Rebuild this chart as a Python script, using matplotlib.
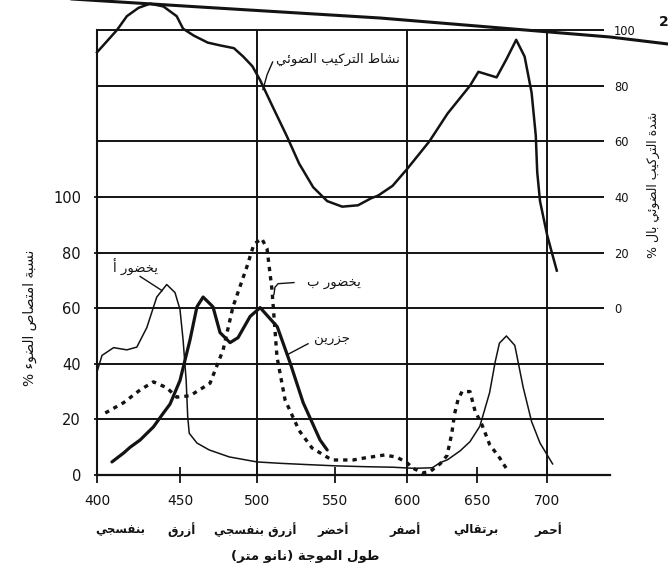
import numpy as np
import matplotlib
matplotlib.use("Agg")
import matplotlib.pyplot as plt
from matplotlib.lines import Line2D

# ---------------- data ----------------
# photosynthesis rate (right axis, %)
photo_nm = [400, 406, 412, 418, 425, 432, 440, 448, 452, 459, 468, 476, 485, 491,
            497, 502, 510, 519, 527, 536, 545, 555, 566, 575, 580, 590, 600, 616,
            629, 645, 651, 664, 671, 678, 684, 689, 692, 693, 695, 700, 704, 707]
photo_rate = [92, 96, 100, 105, 108, 109.5, 108.5, 105, 100.5, 98, 95.5, 94.5, 93.5, 90.5,
              87, 82, 72.5, 62, 52, 43.5, 38.5, 36.5, 37, 39.5, 40.5, 44, 50, 60,
              70, 80, 85, 83, 89.5, 96.5, 90.5, 77.5, 62, 49, 38.5, 26.5, 19, 13.5]

# chlorophyll a absorption (left axis, %)
chla_nm = [400, 403, 410, 418, 424, 430, 436, 442, 447, 450, 452, 454, 455, 456,
           461, 469, 482, 500, 515, 530, 550, 570, 590, 605, 618, 624, 629, 638,
           645, 652, 659, 663, 666, 671, 677, 683, 689, 695, 704]
chla_abs = [37, 43, 45.8, 45, 46, 53, 64, 68.5, 65.6, 59.5, 48.6, 34, 21, 15,
            11.5, 9, 6.5, 4.7, 4.2, 3.8, 3.3, 3.0, 2.8, 2.4, 2.6, 4.5, 5.5, 8.7,
            12, 17.5, 29.6, 40.7, 47.4, 50, 46.6, 31.5, 19.2, 11.5, 4]

# chlorophyll b absorption (left axis, %)
chlb_nm = [405, 416, 426, 434, 442, 448, 456.5, 469.5, 478, 484.4, 493.5, 498, 503,
           506.4, 509.6, 512.8, 518, 527, 535.3, 548, 562.5, 569, 584.4, 593, 600,
           604.3, 611.4, 616.4, 623.6, 628.6, 632, 634, 636.4, 639.3, 645, 648.6,
           653.6, 659, 666.4, 671.4]
chlb_abs = [22.3, 26, 30.6, 33.5, 31.4, 28, 28.5, 33, 45, 60.5, 75, 83, 85,
            81.5, 66.7, 42.5, 27, 16, 9.7, 5.4, 5.4, 6, 7.2, 6.4, 4.4,
            2.4, 0.8, 1.2, 4, 7, 15, 22, 27, 30, 30, 23,
            18, 11, 6, 2]

# carotenoid absorption (left axis, %)
carot_nm = [409, 416, 420, 426, 434, 440, 444, 450, 456.5, 461, 465, 471.4, 476,
            482.5, 487.7, 495.5, 502, 513, 521.2, 529.6, 540.4, 545]
carot_abs = [4.7, 7.9, 10, 12.6, 17.3, 22.3, 25.5, 34, 48.6, 60.5, 64, 60.5, 51.2,
             47.6, 49.4, 57, 60.2, 53.3, 40.4, 26, 12.6, 9]

wavelength_ticks = [400, 450, 500, 550, 600, 650, 700]
absorb_ticks = [0, 20, 40, 60, 80, 100]
rate_ticks = [0, 20, 40, 60, 80, 100]
colour_names = ["بنفسجي", "أزرق", "أزرق بنفسجي", "أخضر", "أصفر", "برتقالي", "أحمر"]
colour_pos = [414, 451, 499, 549, 599, 649, 701]

# ---------------- Arabic shaping for matplotlib ----------------
FORMS = {
    "ء": ("\uFE80",),
    "آ": ("\uFE81", "\uFE82"),
    "أ": ("\uFE83", "\uFE84"),
    "ؤ": ("\uFE85", "\uFE86"),
    "إ": ("\uFE87", "\uFE88"),
    "ئ": ("\uFE89", "\uFE8A", "\uFE8B", "\uFE8C"),
    "ا": ("\uFE8D", "\uFE8E"),
    "ب": ("\uFE8F", "\uFE90", "\uFE91", "\uFE92"),
    "ة": ("\uFE93", "\uFE94"),
    "ت": ("\uFE95", "\uFE96", "\uFE97", "\uFE98"),
    "ث": ("\uFE99", "\uFE9A", "\uFE9B", "\uFE9C"),
    "ج": ("\uFE9D", "\uFE9E", "\uFE9F", "\uFEA0"),
    "ح": ("\uFEA1", "\uFEA2", "\uFEA3", "\uFEA4"),
    "خ": ("\uFEA5", "\uFEA6", "\uFEA7", "\uFEA8"),
    "د": ("\uFEA9", "\uFEAA"),
    "ذ": ("\uFEAB", "\uFEAC"),
    "ر": ("\uFEAD", "\uFEAE"),
    "ز": ("\uFEAF", "\uFEB0"),
    "س": ("\uFEB1", "\uFEB2", "\uFEB3", "\uFEB4"),
    "ش": ("\uFEB5", "\uFEB6", "\uFEB7", "\uFEB8"),
    "ص": ("\uFEB9", "\uFEBA", "\uFEBB", "\uFEBC"),
    "ض": ("\uFEBD", "\uFEBE", "\uFEBF", "\uFEC0"),
    "ط": ("\uFEC1", "\uFEC2", "\uFEC3", "\uFEC4"),
    "ظ": ("\uFEC5", "\uFEC6", "\uFEC7", "\uFEC8"),
    "ع": ("\uFEC9", "\uFECA", "\uFECB", "\uFECC"),
    "غ": ("\uFECD", "\uFECE", "\uFECF", "\uFED0"),
    "ف": ("\uFED1", "\uFED2", "\uFED3", "\uFED4"),
    "ق": ("\uFED5", "\uFED6", "\uFED7", "\uFED8"),
    "ك": ("\uFED9", "\uFEDA", "\uFEDB", "\uFEDC"),
    "ل": ("\uFEDD", "\uFEDE", "\uFEDF", "\uFEE0"),
    "م": ("\uFEE1", "\uFEE2", "\uFEE3", "\uFEE4"),
    "ن": ("\uFEE5", "\uFEE6", "\uFEE7", "\uFEE8"),
    "ه": ("\uFEE9", "\uFEEA", "\uFEEB", "\uFEEC"),
    "و": ("\uFEED", "\uFEEE"),
    "ى": ("\uFEEF", "\uFEF0"),
    "ي": ("\uFEF1", "\uFEF2", "\uFEF3", "\uFEF4"),
}
LAM_ALEF = {"ا": ("\uFEFB", "\uFEFC"), "أ": ("\uFEF7", "\uFEF8"),
            "إ": ("\uFEF9", "\uFEFA"), "آ": ("\uFEF5", "\uFEF6")}


def ar(text):
    """Contextual shaping + right-to-left ordering for Arabic strings."""
    units = []
    i = 0
    while i < len(text):
        c = text[i]
        if c == "ل" and i + 1 < len(text) and text[i + 1] in LAM_ALEF:
            units.append(LAM_ALEF[text[i + 1]])
            i += 2
        else:
            units.append(c)
            i += 1

    def forms(u):
        return u if isinstance(u, tuple) else FORMS.get(u)

    out = []
    for k, u in enumerate(units):
        f = forms(u)
        if f is None:
            out.append(u)
            continue
        prev = forms(units[k - 1]) if k > 0 else None
        nxt = forms(units[k + 1]) if k + 1 < len(units) else None
        jp = prev is not None and len(prev) == 4 and len(f) >= 2
        jn = len(f) == 4 and nxt is not None and len(nxt) >= 2
        if jp and jn:
            g = f[3]
        elif jn:
            g = f[2]
        elif jp:
            g = f[1]
        else:
            g = f[0]
        out.append(g)
    vis = "".join(reversed(out))
    return vis.translate(str.maketrans("()", ")("))


# ---------------- figure ----------------
INK = "#151212"
plt.rcParams["font.family"] = ["DejaVu Sans"]

fig = plt.figure(figsize=(6.68, 5.73), dpi=100)
fig.patch.set_facecolor("white")
ax = fig.add_axes([97 / 668, 98 / 573, 513 / 668, 475.5 / 573])

# wavelength axis drawn with the uneven spacing of the printed scale
knots_nm = [300, 400, 450, 500, 550, 600, 650, 700, 800]
knots_pos = [-69, 97, 180, 257, 335, 407, 477, 547, 687]


def fwd(x):
    return np.interp(x, knots_nm, knots_pos)


def inv(p):
    return np.interp(p, knots_pos, knots_nm)


ax.set_xscale("function", functions=(fwd, inv))
ax.set_xlim(400, 745)
ax.set_ylim(0, 171)

# grid of the printed chart
ax.hlines(np.arange(20, 161, 20), 400, 741, color=INK, lw=1.4, zorder=1)
ax.vlines([500, 600, 700], 0, 160, color=INK, lw=1.4, zorder=1)

for s in ("top", "right"):
    ax.spines[s].set_visible(False)
ax.spines["left"].set_bounds(0, 160)
ax.spines["left"].set_linewidth(1.5)
ax.spines["bottom"].set_linewidth(1.6)
ax.spines["left"].set_color(INK)
ax.spines["bottom"].set_color(INK)

ax.set_xticks(wavelength_ticks)
ax.set_xticklabels([str(t) for t in wavelength_ticks])
ax.set_yticks(absorb_ticks)
ax.tick_params(axis="x", direction="inout", length=11, width=1.3, pad=8.5,
               labelsize=10, colors=INK)
ax.tick_params(axis="y", direction="inout", length=5, width=1.3, pad=9,
               labelsize=10.5, colors=INK)
ax.xaxis.set_minor_locator(plt.NullLocator())

# absorption spectra
ax.plot(chla_nm, chla_abs, color=INK, lw=1.1, solid_joinstyle="round", zorder=3)
ax.plot(carot_nm, carot_abs, color=INK, lw=2.3, solid_joinstyle="round",
        solid_capstyle="round", zorder=3)
ax.plot(chlb_nm, chlb_abs, color=INK, lw=2.4, linestyle=(0, (1.3, 1.5)),
        dash_capstyle="butt", zorder=3)

# photosynthesis rate on its own scale
ax2 = ax.twinx()
ax2.set_ylim(-60, 111)
for s in ax2.spines.values():
    s.set_visible(False)
ax2.set_yticks(rate_ticks)
ax2.tick_params(axis="y", length=0, pad=3, labelsize=8.3, colors=INK)
ax2.plot(photo_nm, photo_rate, color=INK, lw=1.8, solid_joinstyle="round",
         clip_on=False, zorder=3)

# curve labels with leader lines
ax2.text(552, 89.5, ar("نشاط التركيب الضوئي"), fontsize=9.5, ha="center",
         va="center", color=INK)
ax2.plot([510, 506.5, 503.8], [88.5, 84, 78.6], color=INK, lw=1.0)

ax.text(423, 74.6, ar("يخضور أ"), fontsize=9.5, ha="center", va="center", color=INK)
ax.plot([426, 439.2], [71.4, 66.3], color=INK, lw=1.0)

ax.text(549, 68.8, ar("يخضور ب"), fontsize=9.5, ha="center", va="center", color=INK)
ax.plot([523.7, 513.5, 511.5, 510.9], [69.2, 68.8, 67.5, 65.0], color=INK, lw=1.0)

ax.text(548, 48.6, ar("جزرين"), fontsize=9.5, ha="center", va="center", color=INK)
ax.plot([532.7, 519.2], [47.2, 43.2], color=INK, lw=1.0)

# colour names under the wavelength ticks
for name, pos in zip(colour_names, colour_pos):
    ax.annotate(ar(name), xy=(pos, 0), xycoords=("data", "axes fraction"),
                xytext=(0, -39), textcoords="offset points", ha="center",
                va="center", fontsize=8.5, fontweight="bold", color=INK)

ax.annotate(ar("طول الموجة (نانو متر)"), xy=(531, 0),
            xycoords=("data", "axes fraction"), xytext=(0, -59),
            textcoords="offset points", ha="center", va="center",
            fontsize=9.5, fontweight="bold", color=INK)

# axis titles
fig.text(30 / 668, 1 - 318 / 573, ar("نسبة امتصاص الضوء %"), rotation=90,
         ha="center", va="center", fontsize=10, color=INK)
fig.text(653 / 668, 1 - 185 / 573, ar("شدة التركيب الضوئي بال %"), rotation=90,
         ha="center", va="center", fontsize=9, color=INK)

# page rule and page number along the top
fig.add_artist(Line2D(np.array([40, 200, 380, 610, 668]) / 668,
                      1 - np.array([-3, 7, 18, 37, 44]) / 573,
                      transform=fig.transFigure, color=INK, lw=2.2))
fig.text(664 / 668, 1 - 22 / 573, "2", ha="center", va="center",
         fontsize=10, fontweight="bold", color=INK)

fig.savefig("out.png", dpi=100, facecolor="white")
